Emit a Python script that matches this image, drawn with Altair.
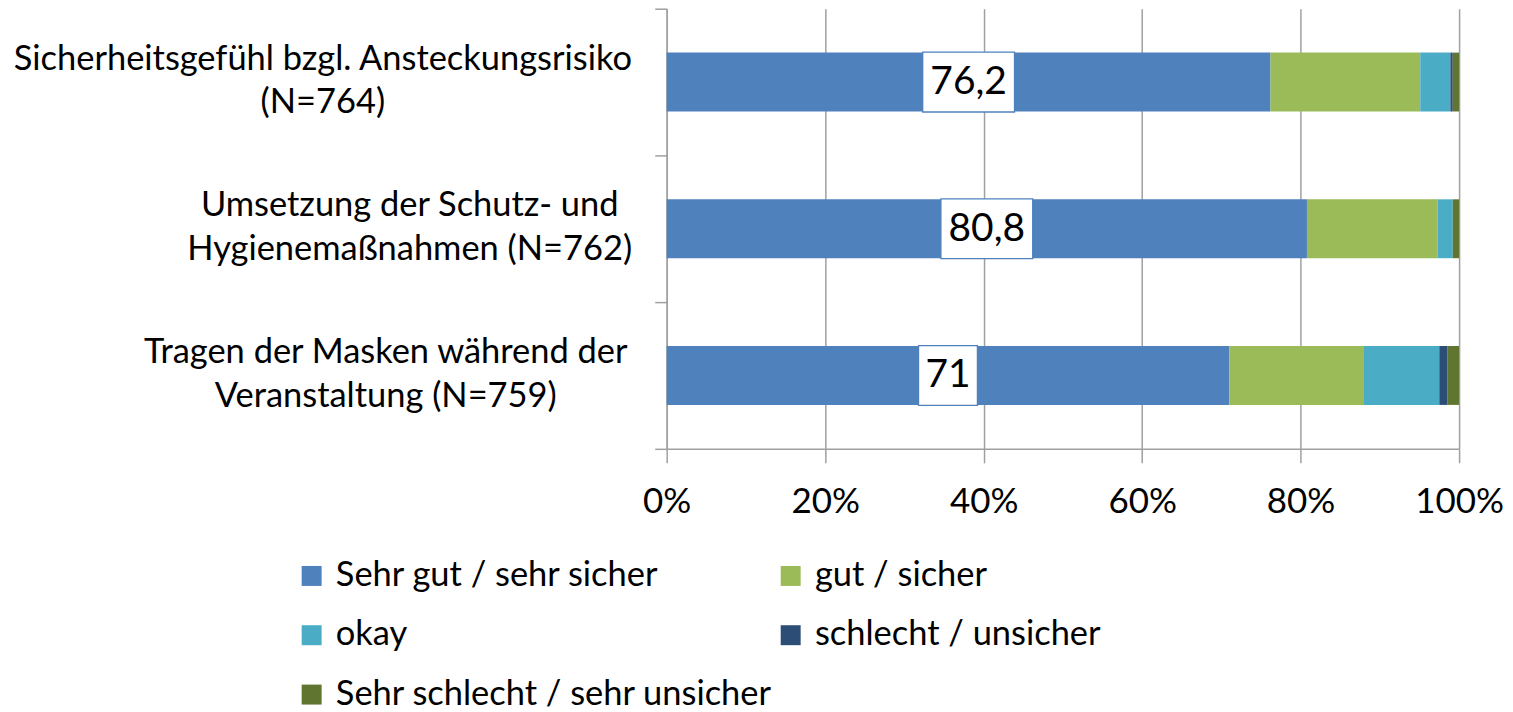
import altair as alt
import pandas as pd

categories = [
    "Sicherheitsgefühl bzgl. Ansteckungsrisiko\n(N=764)",
    "Umsetzung der Schutz- und\nHygienemaßnahmen (N=762)",
    "Tragen der Masken während der\nVeranstaltung (N=759)",
]
levels = [
    "Sehr gut / sehr sicher",
    "gut / sicher",
    "okay",
    "schlecht / unsicher",
    "Sehr schlecht / sehr unsicher",
]
sehr_gut = [76.2, 80.8, 71.0]
gut = [18.9, 16.5, 17.0]
okay = [3.8, 1.9, 9.5]
schlecht = [0.3, 0.0, 1.0]
sehr_schlecht = [0.8, 0.8, 1.5]
colors = ["#4F81BD", "#9BBB59", "#4BACC6", "#2C4D75", "#5F7530"]
x_ticks = [0, 20, 40, 60, 80, 100]

series = [sehr_gut, gut, okay, schlecht, sehr_schlecht]
rows = []
for li, (lvl, vals) in enumerate(zip(levels, series)):
    for cat, v in zip(categories, vals):
        rows.append({"cat": cat, "level": lvl, "idx": li, "v": v})
df = pd.DataFrame(rows)
df_lab = pd.DataFrame({"cat": categories, "v": sehr_gut})

FONT = "Lato"
GRAY = "#A0A0A0"

y_enc = alt.Y(
    "cat:N",
    sort=categories,
    scale=alt.Scale(paddingInner=0, paddingOuter=0),
    axis=alt.Axis(
        title=None,
        domain=True,
        domainColor=GRAY,
        domainWidth=1.5,
        ticks=True,
        tickColor=GRAY,
        tickWidth=1.5,
        tickSize=12,
        tickBand="extent",
        grid=False,
        labelExpr="split(datum.label, '\\n')",
        labelAlign="center",
        labelBaseline="middle",
        labelOffset=-23,
        labelPadding={
            "condition": [
                {"test": "indexof('' + datum.value, 'Sicherheit') >= 0", "value": 333},
                {"test": "indexof('' + datum.value, 'Umsetzung') >= 0", "value": 246},
            ],
            "value": 270,
        },
        labelFont=FONT,
        labelFontSize=34.5,
        labelLineHeight=44,
        labelColor="black",
        labelLimit=0,
    ),
)

x_scale = alt.Scale(domain=[0, 100], nice=False)

bars = alt.Chart(df).mark_bar(size=59).encode(
    x=alt.X(
        "v:Q",
        stack="zero",
        scale=x_scale,
        axis=alt.Axis(
            title=None,
            values=x_ticks,
            labelExpr="datum.value + '%'",
            grid=True,
            gridColor=GRAY,
            gridWidth=1.5,
            domain=True,
            domainColor=GRAY,
            domainWidth=1.5,
            tickColor=GRAY,
            tickWidth=1.5,
            tickSize=14,
            labelFont=FONT,
            labelFontSize=35,
            labelColor="black",
            labelPadding=22,
            labelFlush=False,
        ),
    ),
    y=y_enc,
    color=alt.Color(
        "level:N",
        scale=alt.Scale(domain=levels, range=colors),
        legend=alt.Legend(
            title=None,
            orient="none",
            direction="horizontal",
            legendX=-373,
            legendY=551,
            columns=2,
            symbolType="square",
            symbolSize=400,
            symbolStrokeWidth=0,
            labelFont=FONT,
            labelFontSize=34.5,
            labelColor="black",
            labelOffset=7,
            labelLimit=0,
            rowPadding=24.5,
            columnPadding=-5,
        ),
    ),
    order=alt.Order("idx:Q"),
)

base_lab = alt.Chart(df_lab).transform_calculate(
    mid="datum.v / 2",
    label="replace(toString(datum.v), '.', ',')",
).transform_calculate(
    hw="(26 + 16.5 * length(datum.label)) / 60",
).transform_calculate(
    box="'M' + (-datum.hw) + ',-1H' + datum.hw + 'V1H' + (-datum.hw) + 'Z'"
)

boxes = base_lab.mark_point(
    filled=True, fill="white", stroke="#4F81BD", strokeWidth=1.3,
    opacity=1, fillOpacity=1, size=3600,
).encode(
    x=alt.X("mid:Q", scale=x_scale),
    y=alt.Y("cat:N", sort=categories),
    shape=alt.Shape("box:N", scale=None),
)

texts = base_lab.mark_text(
    font=FONT, fontSize=39, color="black", align="center", baseline="middle",
).encode(
    x=alt.X("mid:Q", scale=x_scale),
    y=alt.Y("cat:N", sort=categories),
    text="label:N",
)

chart = alt.layer(bars, boxes, texts).properties(
    width=794,
    height=441,
    autosize=alt.AutoSizeParams(type="none"),
    padding={"left": 660, "top": 0, "right": 46, "bottom": 262},
).configure_view(stroke=None)

chart.save("out.html", embed_options={"renderer": "svg", "actions": False})
